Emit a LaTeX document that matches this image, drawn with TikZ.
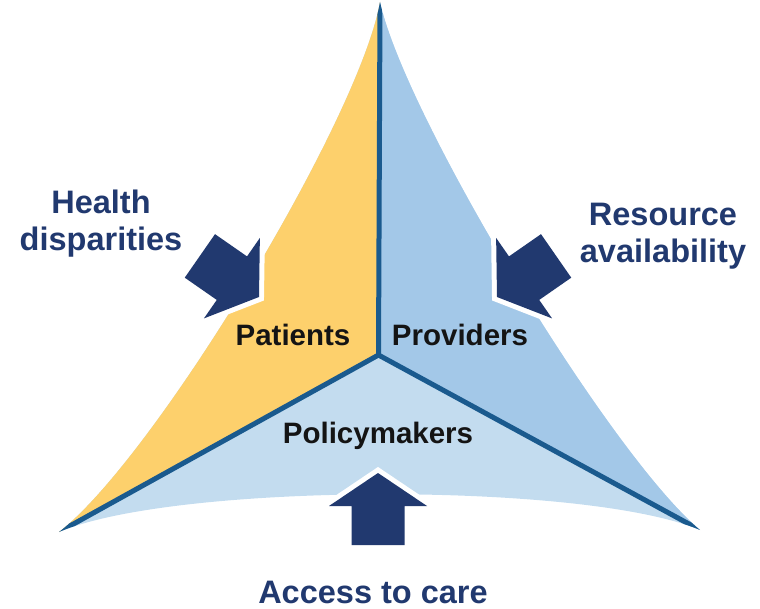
\documentclass[tikz,border=0pt]{standalone}
\usepackage{fontspec}
\setmainfont{Liberation Sans}
\definecolor{ptyellow}{HTML}{FDD06C}
\definecolor{prblue}{HTML}{A3C8E8}
\definecolor{polblue}{HTML}{C3DCEF}
\definecolor{divblue}{HTML}{1A5A8E}
\definecolor{navy}{HTML}{21396F}
\tikzset{
  titletext/.style={font=\bfseries\fontsize{32.5}{37}\selectfont, text=navy, align=center, inner sep=0pt},
  labeltext/.style={font=\bfseries\fontsize{29.5}{34}\selectfont, text=black!92, inner sep=0pt, anchor=base},
  divider/.style={draw=divblue, line width=5pt},
  blockarrow/.style={fill=navy, preaction={draw=white, line width=10pt, line join=miter}}
}
\newcommand{\mkarrow}[2]{%
  \path[blockarrow, shift={#1}, rotate=#2]
    (0,0) -- (-33,49) -- (-33,26.5) -- (-72,26.5) -- (-72,-26.5) -- (-33,-26.5) -- (-33,-49) -- cycle;}
\def\tripath{(380,2) .. controls (359.2,119.8) and (153.8,459) .. (59,532)
  .. controls (174.4,482.6) and (584.6,481.4) .. (700,530)
  .. controls (609.9,454.7) and (405.1,116.7) .. cycle}
\begin{document}
\begin{tikzpicture}[x=1pt, y=-1pt]
\useasboundingbox (0,0) rectangle (760,609);
\coordinate (T) at (380,2);
\coordinate (L) at (59,532);
\coordinate (R) at (700,530);
\coordinate (C) at (378.5,355);
% sections
\fill[polblue] \tripath;
\fill[ptyellow] (T) -- (C) -- (L) .. controls (153.8,459) and (359.2,119.8) .. cycle;
\fill[prblue] (T) -- (C) -- (R) .. controls (609.9,454.7) and (405.1,116.7) .. cycle;
% dividers
\begin{scope}
  \clip \tripath;
  \draw[divider] (C) -- (T);
  \draw[divider] (C) -- (L);
  \draw[divider] (C) -- (R);
\end{scope}
% arrows
\mkarrow{(259,297)}{-34.8}
\mkarrow{(497,297)}{214.8}
\mkarrow{(378,473)}{90}
% labels
\node[labeltext] (patients) at (293,345) {Patients};
\node[labeltext] (providers) at (460,345) {Providers};
\node[labeltext] (policy) at (378,443) {Policymakers};
% outer texts
\node[titletext] (health) at (101,223.3) {Health\\disparities};
\node[titletext] (resource) at (663,236.3) {Resource\\availability};
\node[titletext, anchor=base] (access) at (373,603.5) {Access to care};
\end{tikzpicture}
\end{document}
